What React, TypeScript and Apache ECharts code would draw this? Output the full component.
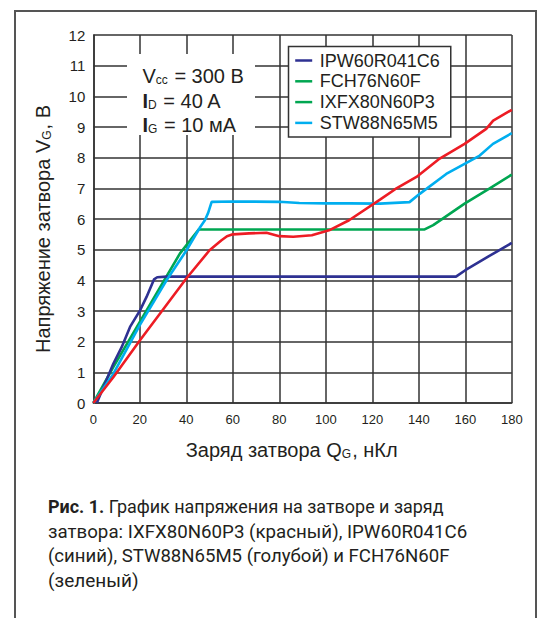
import React, { useEffect, useRef } from "react";
import * as echarts from "echarts";

// ---- Data ----
const xTicks = [0, 20, 40, 60, 80, 100, 120, 140, 160, 180];
const yTicks = [0, 1, 2, 3, 4, 5, 6, 7, 8, 9, 10, 11, 12];

const legendNames = ["IPW60R041C6", "FCH76N60F", "IXFX80N60P3", "STW88N65M5"];

// IPW60R041C6 (navy)
const ipwQ = [1.5, 8.6, 12.2, 15.8, 20.1, 22.9, 26.1, 27.5, 31.5, 100, 156, 160, 170, 180];
const ipwV = [0, 1.28, 1.82, 2.48, 3.02, 3.46, 4.03, 4.1, 4.12, 4.12, 4.12, 4.33, 4.78, 5.22];

// FCH76N60F (green)
const fchQ = [0, 8.6, 37.3, 45.4, 80, 142.5, 146.2, 159.7, 170.5, 180];
const fchV = [0, 1.17, 4.88, 5.66, 5.66, 5.66, 5.8, 6.5, 7.0, 7.45];

// IXFX80N60P3 (red)
const ixfxQ = [0, 8.6, 20, 40, 50, 55, 57.5, 60, 67, 74.5, 80, 86, 94, 101.4, 110, 123.3, 130, 139, 149, 159.7, 169, 172, 180];
const ixfxV = [0, 0.84, 2.04, 4.06, 4.98, 5.3, 5.44, 5.5, 5.53, 5.55, 5.44, 5.42, 5.47, 5.63, 5.96, 6.63, 6.98, 7.37, 7.97, 8.45, 8.94, 9.21, 9.56];

// STW88N65M5 (cyan)
const stwQ = [0, 8.6, 20, 31.5, 40.1, 46, 48, 49.4, 50.9, 60, 80, 88.6, 100, 110, 123.3, 136, 140.4, 151.8, 159.7, 166.2, 171.9, 180];
const stwV = [0, 0.95, 2.54, 4.0, 4.98, 5.74, 5.96, 6.2, 6.56, 6.57, 6.56, 6.52, 6.51, 6.51, 6.5, 6.55, 6.82, 7.47, 7.8, 8.07, 8.45, 8.8];

const captionLines = [
  "{b|Рис. 1.} График напряжения на затворе и заряд",
  "затвора: IXFX80N60P3 (красный), IPW60R041C6",
  "(синий), STW88N65M5 (голубой) и FCH76N60F",
  "(зеленый)",
];

const NAVY = "#2e3192";
const GREEN = "#00a651";
const RED = "#ed1c24";
const CYAN = "#00aeef";
const INK = "#231f20";
const FONT = "'Liberation Sans', Arial, sans-serif";

const zip = (a: number[], b: number[]) => a.map((v, i) => [v, b[i]]);

export default function App() {
  const ref = useRef<HTMLDivElement>(null);
  useEffect(() => {
    if (!ref.current) return;
    const chart = echarts.init(ref.current, null, { renderer: "svg" });
    const line = (name: string, color: string, q: number[], v: number[]) => ({
      name,
      type: "line",
      data: zip(q, v),
      showSymbol: false,
      symbol: "none",
      lineStyle: { color, width: 2.6 },
      itemStyle: { color },
    });
    const subRich = {
      v: { fontSize: 20, fontFamily: FONT, fill: INK, verticalAlign: "bottom" },
      b: { fontSize: 20, fontFamily: FONT, fontWeight: "bold", fill: INK, verticalAlign: "bottom" },
      s: { fontSize: 12, fontFamily: FONT, fill: INK, verticalAlign: "bottom", padding: [0, 1, 0, 0] },
    };
    const capY = [507, 531.5, 556, 580.5];
    const capScale = [0.945, 0.985, 0.978, 1.0];
    chart.setOption({
      animation: false,
      backgroundColor: "#ffffff",
      grid: { left: 93.3, top: 35, width: 418.5, height: 368, containLabel: false },
      xAxis: {
        type: "value",
        min: 0,
        max: 180,
        interval: 20,
        axisLine: { show: true, lineStyle: { color: "#333", width: 1.5 } },
        axisTick: { show: false },
        axisLabel: { fontSize: 13, color: INK, margin: 10, fontFamily: FONT, formatter: (v: number) => (xTicks.includes(v) ? String(v) : "") },
        splitLine: { show: true, lineStyle: { color: "#333", width: 1.5 } },
      },
      yAxis: {
        type: "value",
        min: 0,
        max: 12,
        interval: 1,
        axisLine: { show: true, lineStyle: { color: "#333", width: 1.5 } },
        axisTick: { show: false },
        axisLabel: { fontSize: 15, color: INK, margin: 8, fontFamily: FONT, formatter: (v: number) => (yTicks.includes(v) ? String(v) : "") },
        splitLine: { show: true, lineStyle: { color: "#333", width: 1.5 } },
      },
      legend: {
        orient: "vertical",
        left: 288.5,
        top: 46.5,
        icon: "rect",
        itemWidth: 17,
        itemHeight: 2.5,
        itemGap: 2.8,
        padding: [5, 11, 5, 6.7],
        borderColor: "#333",
        borderWidth: 1.5,
        backgroundColor: "#ffffff",
        selectedMode: false,
        textStyle: { fontSize: 18, color: INK, fontFamily: FONT, padding: [0, 0, 0, 2.5] },
        data: [
          { name: legendNames[0], itemStyle: { color: NAVY } },
          { name: legendNames[1], itemStyle: { color: GREEN } },
          { name: legendNames[2], itemStyle: { color: GREEN } },
          { name: legendNames[3], itemStyle: { color: CYAN } },
        ],
      },
      series: [
        line(legendNames[1], GREEN, fchQ, fchV),
        line(legendNames[0], NAVY, ipwQ, ipwV),
        line(legendNames[3], CYAN, stwQ, stwV),
        line(legendNames[2], RED, ixfxQ, ixfxV),
      ],
      graphic: [
        {
          type: "polyline",
          z: 100,
          shape: { points: [[15, 618], [15, 11], [536, 11], [536, 618]] },
          style: { stroke: "#555", lineWidth: 2, fill: null },
        },
        {
          type: "rect",
          z: 100,
          shape: { x: 127, y: 54, width: 128, height: 81 },
          style: { fill: "#ffffff" },
        },
        {
          type: "text",
          z: 101,
          x: 142.5,
          y: 76,
          style: { text: "{v|V}{s|cc}{v| = 300 В}", rich: subRich, verticalAlign: "middle", align: "left" },
        },
        {
          type: "text",
          z: 101,
          x: 142.5,
          y: 100.5,
          style: { text: "{b|I}{s|D}{v| = 40 A}", rich: subRich, verticalAlign: "middle", align: "left" },
        },
        {
          type: "text",
          z: 101,
          x: 142.5,
          y: 125,
          style: { text: "{b|I}{s|G}{v| = 10 мА}", rich: subRich, verticalAlign: "middle", align: "left" },
        },
        {
          type: "text",
          z: 101,
          x: 42.5,
          y: 229,
          rotation: Math.PI / 2,
          style: { text: "{v|Напряжение затвора V}{s|G}{v|, В}", rich: subRich, align: "center", verticalAlign: "middle" },
        },
        {
          type: "text",
          z: 101,
          x: 291.7,
          y: 450,
          style: { text: "{v|Заряд затвора Q}{s|G}{v|, нКл}", rich: subRich, align: "center", verticalAlign: "middle" },
        },
        ...captionLines.map((t, i) => ({
          type: "group",
          x: 48,
          y: capY[i],
          scaleX: capScale[i],
          children: [
            {
              type: "text",
              z: 101,
              x: 0,
              y: 0,
              style: {
                text: t,
                fontSize: 19,
                fontFamily: "Roboto, sans-serif",
                fill: INK,
                align: "left",
                verticalAlign: "middle",
                rich: {
                  b: { fontSize: 19, fontFamily: "Roboto, sans-serif", fontWeight: "bold", fill: INK },
                },
              },
            },
          ],
        })),
      ],
    });
    return () => chart.dispose();
  }, []);
  return (
    <div
      ref={ref}
      style={{ position: "fixed", left: 0, top: 0, width: 538, height: 618, background: "#fff" }}
    />
  );
}
